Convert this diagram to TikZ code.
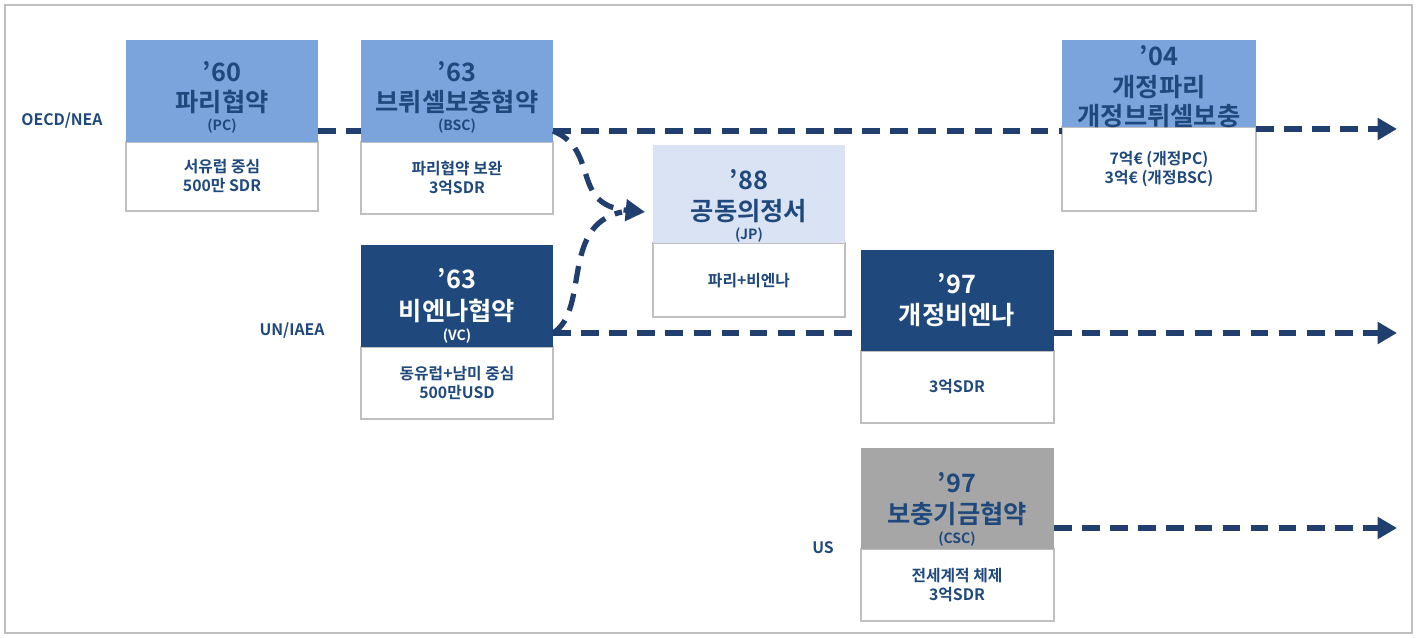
\documentclass[tikz,border=0pt]{standalone}
\usepackage{fontspec}
\setmainfont{Noto Sans CJK KR}[BoldFont={* Bold}]
\usetikzlibrary{arrows.meta}
\definecolor{lb}{HTML}{7BA3DC}
\definecolor{vlb}{HTML}{DAE3F3}
\definecolor{db}{HTML}{1F497D}
\definecolor{gr}{HTML}{A6A6A6}
\definecolor{ln}{HTML}{203F6E}
\definecolor{bd}{HTML}{BFBFBF}
\begin{document}
\begin{tikzpicture}[x=0.02cm,y=-0.02cm,
 hd/.style={inner sep=0,font=\bfseries\Large},
 ab/.style={inner sep=0,font=\bfseries\footnotesize},
 low/.style={draw=bd,fill=white,line width=0.6pt},
 lt/.style={align=center,font=\bfseries\small,text=db,inner sep=0},
 dl/.style={draw=ln,line width=3pt,dash pattern=on 10pt off 6pt},
 tip/.style={-{Triangle[length=11pt,width=12pt]}}]
\useasboundingbox (0,0) rectangle (1417,638);
\draw[bd,line width=0.8pt] (5,5) rectangle (1412,633);
\newcommand{\bx}[6]{% x1 y1 x2 ymid y2 fill
 \draw[low] (#1,#4) rectangle (#3,#5);
 \fill[#6] (#1,#2) rectangle (#3,#4);}
\bx{126}{40}{318}{142}{211}{lb}
\bx{361}{40}{553}{142}{214}{lb}
\bx{653}{145}{845}{243}{317}{vlb}
\bx{361}{245}{553}{347}{419}{db}
\bx{861}{250}{1054}{351}{423}{db}
\bx{861}{448}{1054}{549}{621}{gr}
\bx{1062}{40}{1256}{127}{211}{lb}
% headers
\node[hd,text=db] (pcy) at (222,72) {’60};
\node[hd,text=db] (pcn) at (222,102) {파리협약};
\node[ab,text=db] (pca) at (222,126) {(PC)};
\node[hd,text=db] (bscy) at (457,72) {’63};
\node[hd,text=db] (bscn) at (457,102) {브뤼셀보충협약};
\node[ab,text=db] (bsca) at (457,126) {(BSC)};
\node[hd,text=db] (jpy) at (749,180) {’88};
\node[hd,text=db] (jpn) at (749,211) {공동의정서};
\node[ab,text=db] (jpa) at (749,235) {(JP)};
\node[hd,text=white] (vcy) at (457,279) {’63};
\node[hd,text=white] (vcn) at (457,311) {비엔나협약};
\node[ab,text=white] (vca) at (457,336) {(VC)};
\node[hd,text=white] (rvy) at (957,284) {’97};
\node[hd,text=white] (rvn) at (957,315) {개정비엔나};
\node[hd,text=db] (cscy) at (957,483) {’97};
\node[hd,text=db] (cscn) at (957,514) {보충기금협약};
\node[ab,text=db] (csca) at (957,539) {(CSC)};
\node[hd,text=db] (ry) at (1159,56) {’04};
\node[hd,text=db] (rn1) at (1159,87) {개정파리};
\node[hd,text=db] (rn2) at (1159,116) {개정브뤼셀보충};
% lower texts
\node[lt] (pcl) at (222,176) {서유럽 중심\\500만 SDR};
\node[lt] (bscl) at (457,178) {파리협약 보완\\3억SDR};
\node[lt] (jpl) at (749,281) {파리+비엔나};
\node[lt] (vcl) at (457,383) {동유럽+남미 중심\\500만USD};
\node[lt] (rvl) at (957,387) {3억SDR};
\node[lt] (cscl) at (957,585) {전세계적 체제\\3억SDR};
\node[lt] (r04l) at (1159,169) {7억€ (개정PC)\\3억€ (개정BSC)};
% row labels
\node[lt] (oecd) at (62,121) {OECD/NEA};
\node[lt] (un) at (292,331) {UN/IAEA};
\node[lt] (us) at (823,548) {US};
% connectors
\coordinate (a1) at (318,131); \coordinate (a2) at (361,131);
\coordinate (a3) at (553,131); \coordinate (a4) at (1062,131);
\coordinate (a5) at (1256,129); \coordinate (a6) at (1397,129);
\coordinate (b1) at (553,333); \coordinate (b2) at (861,333);
\coordinate (b3) at (1054,333); \coordinate (b4) at (1397,333);
\coordinate (c1) at (1054,528); \coordinate (c2) at (1397,528);
\coordinate (j) at (645,212);
\draw[dl] (a1) -- (a2);
\draw[dl] (a3) -- (a4);
\draw[dl,tip] (a5) -- (a6);
\draw[dl] (b1) -- (b2);
\draw[dl,tip] (b3) -- (b4);
\draw[dl,tip] (c1) -- (c2);
\draw[dl,tip] (a3) .. controls (600,150) and (570,205) .. (j);
\draw[dl] (b1) .. controls (590,310) and (560,225) .. (622,212);
\end{tikzpicture}
\end{document}
